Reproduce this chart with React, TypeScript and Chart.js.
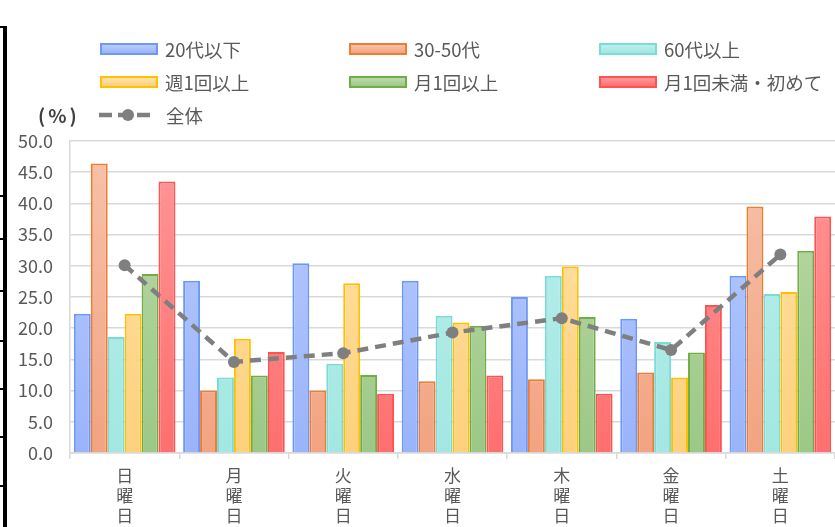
import React, { useEffect, useRef } from "react";
import { Chart, registerables } from "chart.js";

Chart.register(...registerables);

const days = ["日曜日", "月曜日", "火曜日", "水曜日", "木曜日", "金曜日", "土曜日"];
const seriesNames = ["20代以下", "30-50代", "60代以上", "週1回以上", "月1回以上", "月1回未満・初めて"];
const under20s = [22.3, 27.6, 30.4, 27.6, 25.0, 21.5, 28.4];
const age30to50 = [46.4, 10.0, 10.0, 11.5, 11.8, 12.9, 39.5];
const over60 = [18.6, 12.1, 14.3, 22.0, 28.4, 17.8, 25.5];
const weekly = [22.3, 18.3, 27.2, 20.9, 29.9, 12.1, 25.8];
const monthly = [28.7, 12.4, 12.5, 20.4, 21.8, 16.1, 32.4];
const lessThanMonthly = [43.5, 16.2, 9.5, 12.4, 9.5, 23.7, 37.9];
const total = [30.1, 14.6, 16.0, 19.3, 21.6, 16.5, 31.8];
const totalName = "全体";
const yTicks = [0, 5, 10, 15, 20, 25, 30, 35, 40, 45, 50];

const seriesValues = [under20s, age30to50, over60, weekly, monthly, lessThanMonthly];
const styles = [
  { border: "#6e98f7", top: "#bacdff", bottom: "#9ab4fa" },
  { border: "#ed7d31", top: "#f8c2aa", bottom: "#f2a382" },
  { border: "#7adcd6", top: "#bcefec", bottom: "#a3e7e2" },
  { border: "#ffc000", top: "#ffe4ab", bottom: "#fdd07c" },
  { border: "#70ad47", top: "#bddaa9", bottom: "#9cc887" },
  { border: "#ff5252", top: "#ff9898", bottom: "#ff6f6f" },
];

const font = "'Noto Sans CJK JP', 'Noto Sans', sans-serif";
const textColor = "#595959";

export default function App() {
  const ref = useRef<HTMLCanvasElement | null>(null);

  useEffect(() => {
    const canvas = ref.current;
    if (!canvas) return;
    const grad = (s: { top: string; bottom: string }) => (ctx: any) => {
      const chart = ctx.chart;
      const area = chart.chartArea;
      if (!area) return s.bottom;
      const g = chart.ctx.createLinearGradient(0, area.bottom, 0, area.top);
      g.addColorStop(0, s.bottom);
      g.addColorStop(1, s.top);
      return g;
    };
    const datasets: any[] = seriesValues.map((vals, i) => ({
      type: "bar",
      label: seriesNames[i],
      data: vals,
      backgroundColor: grad(styles[i]),
      borderColor: styles[i].border,
      borderWidth: 2,
      borderSkipped: "bottom",
      categoryPercentage: 0.93,
      barPercentage: 1.0,
      order: 2,
    }));
    datasets.push({
      type: "line",
      label: totalName,
      data: total,
      borderColor: "#7f7f7f",
      borderWidth: 4.5,
      borderDash: [11, 7],
      pointRadius: 6,
      pointBackgroundColor: "#7f7f7f",
      pointBorderColor: "#7f7f7f",
      pointBorderWidth: 0,
      tension: 0,
      fill: false,
      order: 0,
    });
    const chart = new Chart(canvas, {
      type: "bar",
      data: { labels: days.map((d) => d.split("")), datasets },
      options: {
        animation: false,
        responsive: false,
        devicePixelRatio: 1,
        layout: { padding: { top: 141, left: 0, right: 0, bottom: 0 } },
        plugins: { legend: { display: false }, tooltip: { enabled: false } },
        scales: {
          x: {
            afterFit: (axis: any) => {
              axis.height = 74;
            },
            grid: {
              offset: true,
              drawOnChartArea: false,
              drawTicks: true,
              tickLength: 6,
              color: "#d9d9d9",
              lineWidth: 1.5,
            },
            border: { color: "#d9d9d9", width: 1.5 },
            ticks: {
              color: textColor,
              padding: 7,
              maxRotation: 0,
              autoSkip: false,
              font: { family: font, size: 17, lineHeight: "20px" as any },
            },
          },
          y: {
            min: 0,
            max: 50,
            afterFit: (axis: any) => {
              axis.width = 70;
            },
            afterBuildTicks: (axis: any) => {
              axis.ticks = yTicks.map((v) => ({ value: v }));
            },
            grid: { color: "#d9d9d9", lineWidth: 1.5, drawTicks: false },
            border: { color: "#d9d9d9", width: 1.5 },
            ticks: {
              color: textColor,
              padding: 17,
              font: { family: font, size: 18 },
              callback: (v: any) => Number(v).toFixed(1),
            },
          },
        },
      },
    });
    return () => chart.destroy();
  }, []);

  const colX = [100, 349, 599];
  const rowY = [48.5, 82];
  const boxW = 58;
  const boxH = 12;

  return (
    <div
      style={{
        position: "fixed",
        left: 0,
        top: 0,
        width: 835,
        height: 527,
        overflow: "hidden",
        background: "#ffffff",
        fontFamily: font,
      }}
    >
      <canvas
        ref={ref}
        width={841}
        height={527}
        style={{ position: "absolute", left: 0, top: 0, width: 841, height: 527 }}
      />
      {seriesNames.map((name, i) => {
        const x = colX[i % 3];
        const y = rowY[Math.floor(i / 3)];
        const s = styles[i];
        return (
          <React.Fragment key={name}>
            <div
              style={{
                position: "absolute",
                left: x,
                top: y - boxH / 2,
                width: boxW,
                height: boxH,
                boxSizing: "border-box",
                border: `2px solid ${s.border}`,
                background: `linear-gradient(to bottom, ${s.top}, ${s.bottom})`,
              }}
            />
            <div
              style={{
                position: "absolute",
                left: x + 65,
                top: y - 14,
                height: 28,
                lineHeight: "28px",
                fontSize: 18.5,
                color: textColor,
                whiteSpace: "nowrap",
              }}
            >
              {name}
            </div>
          </React.Fragment>
        );
      })}
      <div
        style={{
          position: "absolute",
          left: 38,
          top: 115 - 14,
          height: 28,
          lineHeight: "28px",
          fontSize: 19,
          fontWeight: 700,
          letterSpacing: 3,
          color: "#404040",
          whiteSpace: "nowrap",
        }}
      >
        (%)
      </div>
      <svg
        width={56}
        height={16}
        style={{ position: "absolute", left: 99, top: 107 }}
      >
        <line x1={0} y1={8} x2={56} y2={8} stroke="#7f7f7f" strokeWidth={4.5} strokeDasharray="13 6" />
        <circle cx={29} cy={8} r={6} fill="#7f7f7f" />
      </svg>
      <div
        style={{
          position: "absolute",
          left: 166,
          top: 115 - 14,
          height: 28,
          lineHeight: "28px",
          fontSize: 18.5,
          color: textColor,
          whiteSpace: "nowrap",
        }}
      >
        {totalName}
      </div>
      <div style={{ position: "absolute", left: 3, top: 27, width: 4, height: 500, background: "#000" }} />
      <div style={{ position: "absolute", left: 0, top: 26, width: 7, height: 2, background: "#000" }} />
      {[195, 238, 290, 340, 388, 436, 485].map((y) => (
        <div key={y} style={{ position: "absolute", left: 0, top: y, width: 7, height: 2, background: "#000" }} />
      ))}
    </div>
  );
}
